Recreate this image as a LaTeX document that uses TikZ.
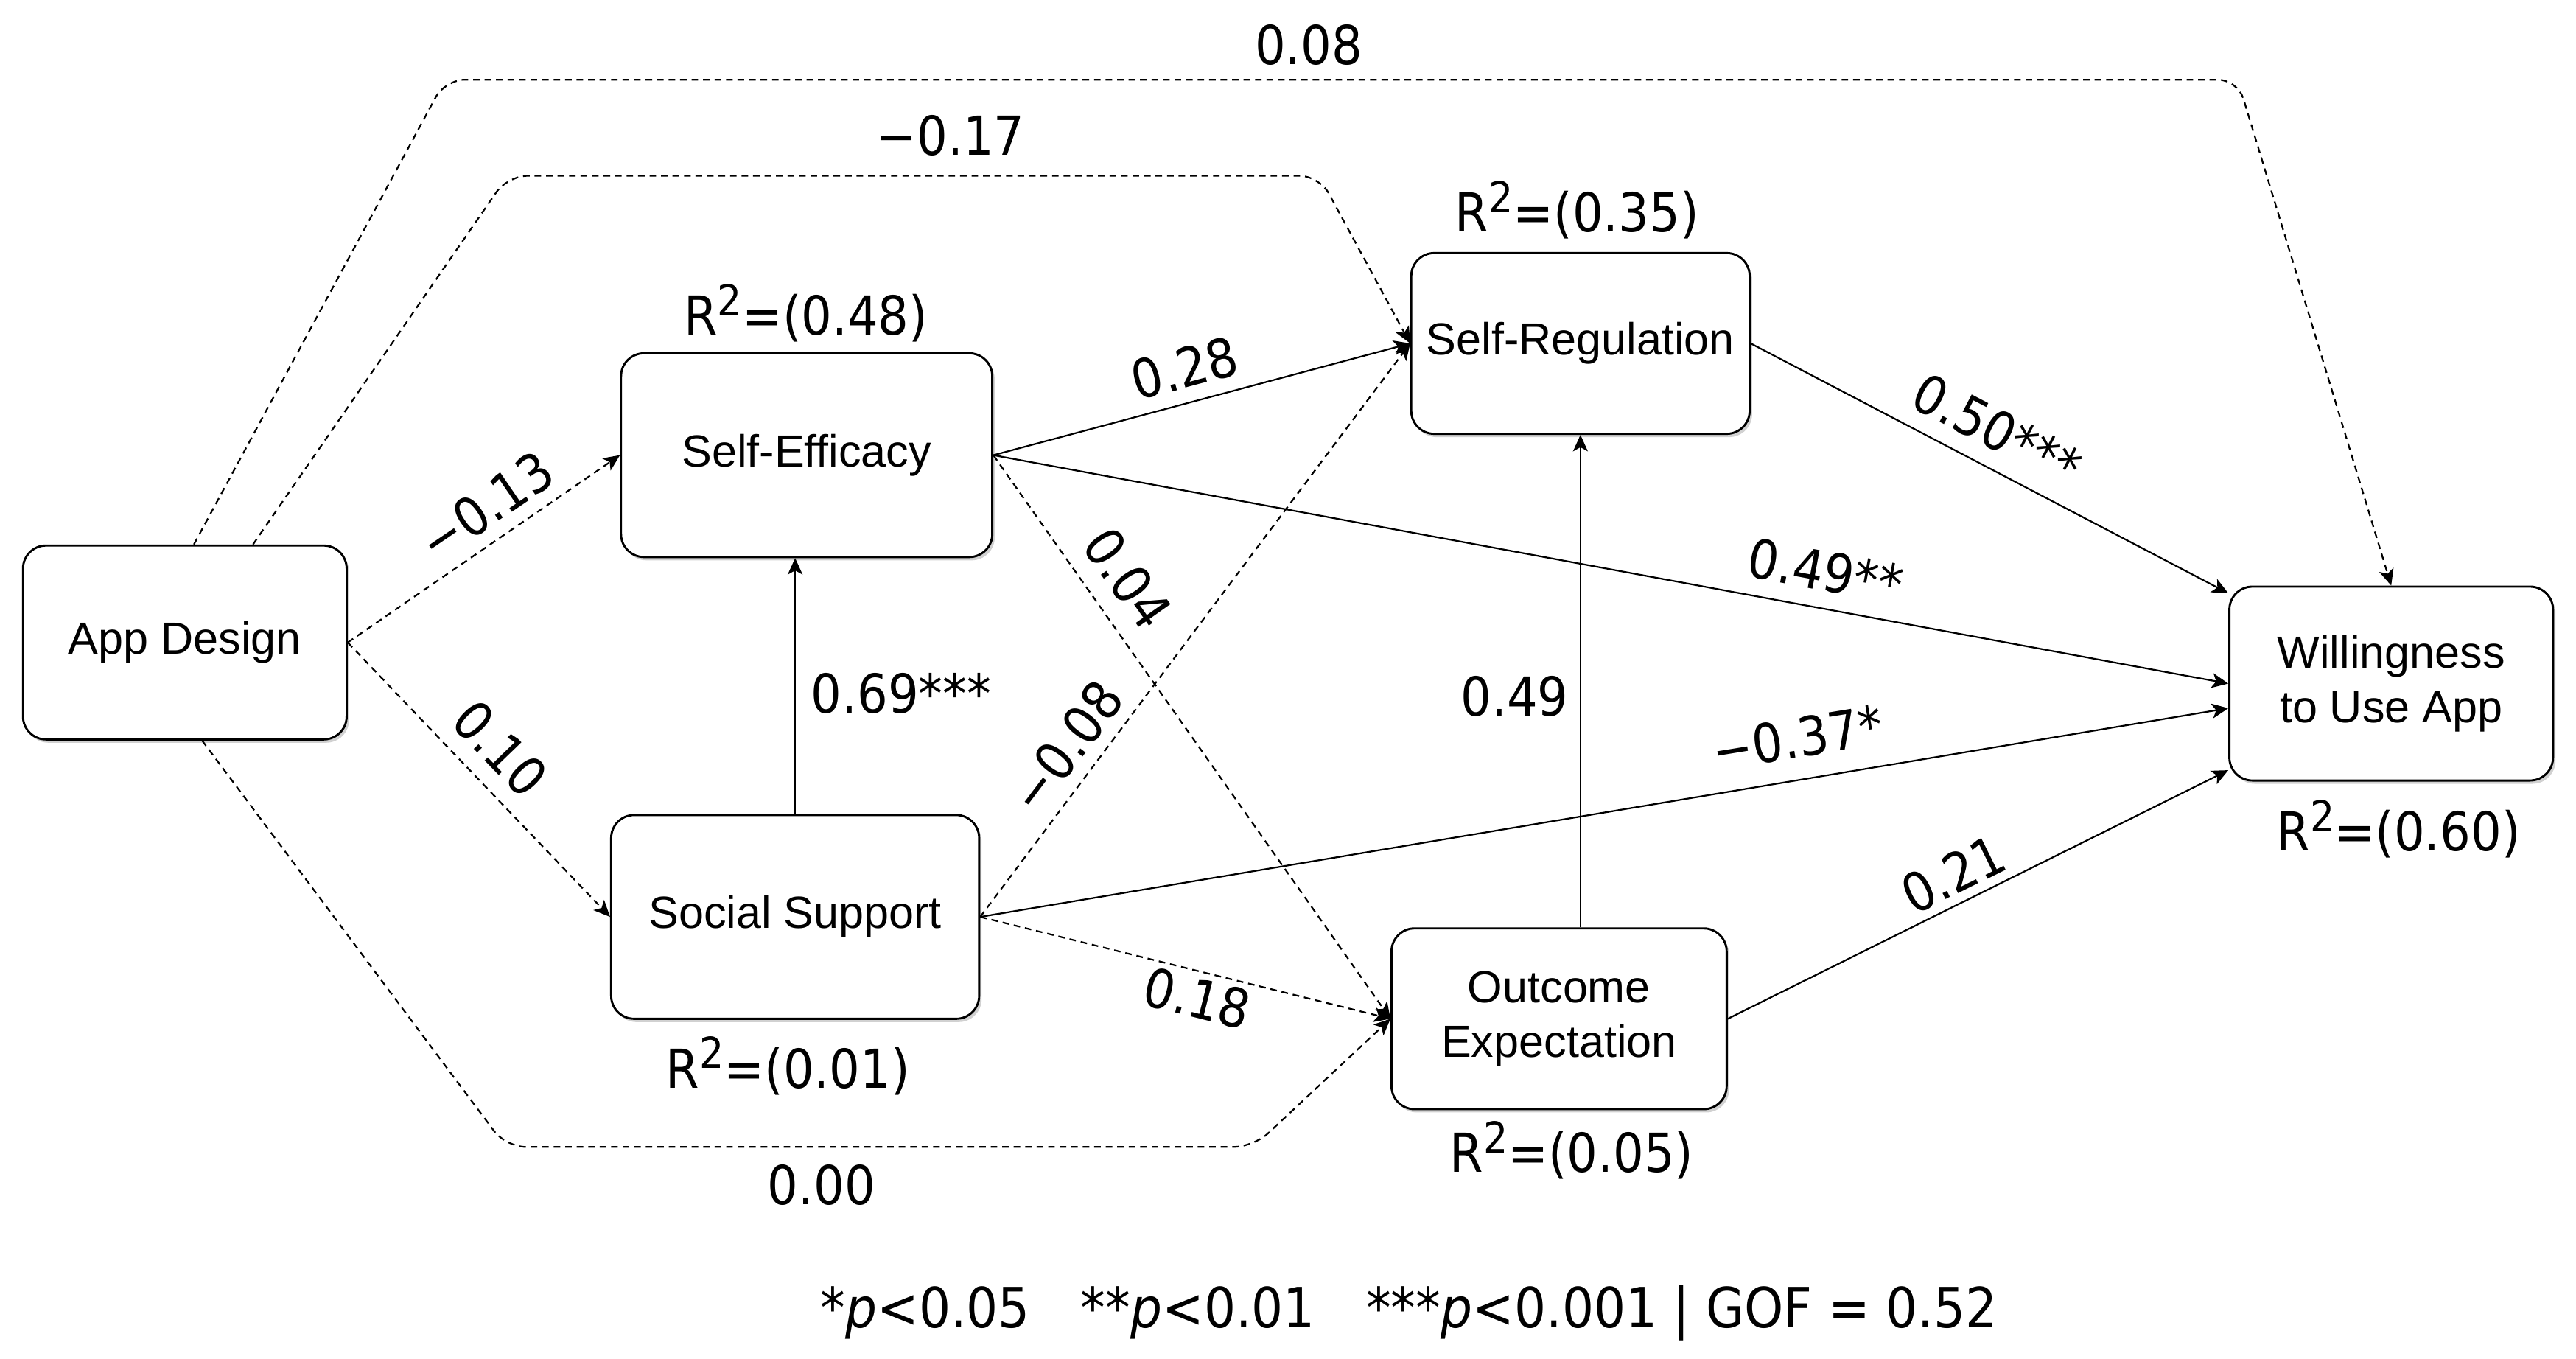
\documentclass[tikz,border=0pt]{standalone}
\usepackage{fontspec}
\setmainfont{Liberation Sans}
\newfontfamily\labfont[FakeStretch=0.9]{DejaVu Sans}
\usetikzlibrary{arrows.meta,shadows}
\newcommand{\rsq}{R\raisebox{0.36em}{\fontsize{74}{74}\selectfont 2}}
\tikzset{
  box/.style={draw, line width=1.3mm, rounded corners=14mm, fill=white, align=center,
    inner sep=0pt, font=\fontsize{78}{94}\selectfont,
    drop shadow={shadow xshift=1.5mm, shadow yshift=-2mm, opacity=0.18, fill=black}},
  con/.style={line width=1mm, -{Stealth[length=10mm,width=9mm,inset=2.5mm]}},
  dsh/.style={con, dash pattern=on 4mm off 3mm},
  far/.style={dsh, rounded corners=12mm},
  lbl/.style={font=\labfont\fontsize{93}{112}\selectfont, inner sep=0pt},
}
\begin{document}
\begin{tikzpicture}[x=1mm, y=-1mm]
\useasboundingbox[fill=white] (0,0) rectangle (1568,827);

% nodes
\node[box, minimum width=197mm, minimum height=118mm] (AD) at (112.5,391) {App Design};
\node[box, minimum width=226mm, minimum height=124mm] (SE) at (491,277) {Self-Efficacy};
\node[box, minimum width=224mm, minimum height=124mm] (SS) at (484,558) {Social Support};
\node[box, minimum width=206mm, minimum height=110mm] (SR) at (962,209) {Self-Regulation};
\node[box, minimum width=204mm, minimum height=110mm] (OE) at (949,620) {Outcome\\Expectation};
\node[box, minimum width=197mm, minimum height=118mm] (W) at (1455.5,416) {Willingness\\to Use App};

% R^2 labels
\node[lbl, anchor=base] (rSE) at (490.6,204) {\rsq=(0.48)};
\node[lbl, anchor=base] (rSR) at (960,141) {\rsq=(0.35)};
\node[lbl, anchor=base] (rSS) at (479.6,662) {\rsq=(0.01)};
\node[lbl, anchor=base] (rOE) at (956.7,713.5) {\rsq=(0.05)};
\node[lbl, anchor=base] (rW) at (1460,518) {\rsq=(0.60)};

% corner coordinates of the long paths
\coordinate (c1) at (271,48.5);
\coordinate (c2) at (1362,48.5);
\coordinate (c3) at (309,107);
\coordinate (c4) at (803,107);
\coordinate (c5) at (308,698);
\coordinate (c6) at (763,698);

% solid connectors
\draw[con] (SS.north) -- (SS.north |- SE.south);
\draw[con] (SE.east) -- (SR.west);
\draw[con] (SE.east) -- (W.west);
\draw[con] (SS.east) -- ([yshift=-15mm]W.west);
\draw[con] (SR.east) -- (W.151);
\draw[con] (OE.east) -- (W.208);
\draw[con] (OE.north -| SR.south) -- (SR.south);

% dashed connectors
\draw[dsh] (AD.east) -- (SE.west);
\draw[dsh] (AD.east) -- (SS.west);
\draw[dsh] (SE.east) -- (OE.west);
\draw[dsh] (SS.east) -- (SR.west);
\draw[dsh] (SS.east) -- (OE.west);
\draw[far] ([xshift=5.5mm]AD.north) -- (c1) -- (c2) -- (W.north);
\draw[far] ([xshift=41.5mm]AD.north) -- (c3) -- (c4) -- (SR.west);
\draw[far] ([xshift=10.5mm]AD.south) -- (c5) -- (c6) -- (OE.west);

% path coefficients
\node[lbl, rotate=34.3] (l1) at (296,308) {−0.13};
\node[lbl, rotate=-46] (l2) at (304.5,455.5) {0.10};
\node[lbl] (l3) at (548.6,422) {0.69***};
\node[lbl, rotate=14.9] (l4) at (721,224) {0.28};
\node[lbl, rotate=-54.7] (l5) at (686.5,352) {0.04};
\node[lbl, rotate=52.9] (l6) at (649,454.6) {−0.08};
\node[lbl, rotate=-14.1] (l7) at (728.8,607.5) {0.18};
\node[lbl, rotate=-10.5] (l8) at (1111,347.6) {0.49**};
\node[lbl, rotate=9.3] (l9) at (1094,449) {−0.37*};
\node[lbl, rotate=26.4] (l10) at (1189,532) {0.21};
\node[lbl, rotate=-27.6] (l11) at (1215.7,261.6) {0.50***};
\node[lbl] (l12) at (922,424) {0.49};
\node[lbl] (l13) at (796.6,27.5) {0.08};
\node[lbl] (l14) at (578.6,82.5) {−0.17};
\node[lbl] (l15) at (500,721) {0.00};

% legend
\node[lbl, anchor=base, font=\labfont\fontsize{96}{112}\selectfont] (leg) at (857.5,808) {*{\itshape p}<0.05\hspace{31mm}**{\itshape p}<0.01\hspace{31mm}***{\itshape p}<0.001 | GOF = 0.52};
\end{tikzpicture}
\end{document}
